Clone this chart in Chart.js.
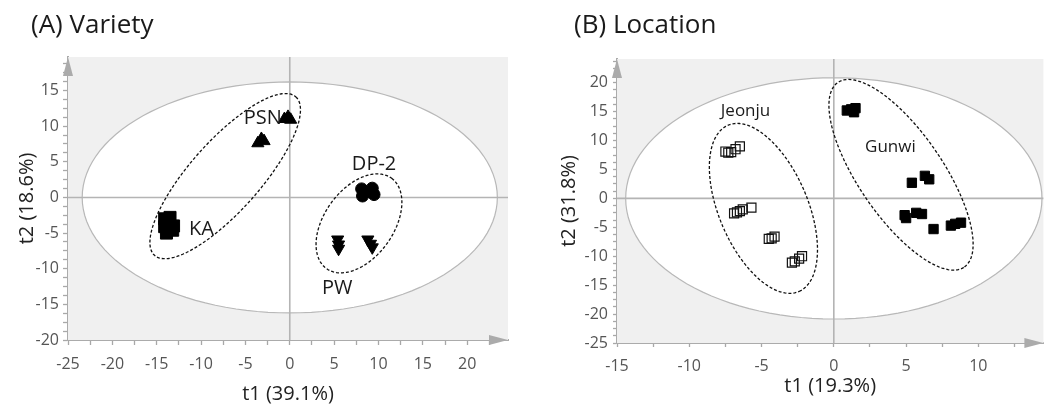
<!DOCTYPE html>
<html>
<head>
<meta charset="utf-8">
<script src="https://cdn.jsdelivr.net/npm/chart.js@4.4.1/dist/chart.umd.min.js"></script>
<style>
  body { margin: 0; background: #fff; width: 1051px; height: 412px; overflow: hidden; position: relative; font-family: "Open Sans", sans-serif; }
  .panel { position: absolute; top: 0; height: 412px; }
  .panel canvas { display: block; }
  .ptitle { position: absolute; top: 8px; font-size: 26px; line-height: 1.2; color: #1a1a1a; }
</style>
</head>
<body>
<div class="panel" style="left:0;width:525px">
  <canvas id="varietyChart" width="525" height="412" style="width:525px;height:412px"></canvas>
  <div class="ptitle" style="left:31px">(A) Variety</div>
</div>
<div class="panel" style="left:525px;width:526px">
  <canvas id="locationChart" width="526" height="412" style="width:526px;height:412px"></canvas>
  <div class="ptitle" style="left:49px">(B) Location</div>
</div>
<script>
const FONT = '"Open Sans", "Noto Sans", sans-serif';

// (A) Variety - PCA scores (t1, t2)
const psnT1 = [-0.6, -0.2, 0.1, -3.6, -3.2, -2.9];
const psnT2 = [11.0, 11.3, 10.9, 7.6, 8.2, 7.9];
const kaT1 = [-14.1, -13.5, -13.1, -14.1, -13.9, -13.2];
const kaT2 = [-3.0, -2.8, -4.0, -4.1, -5.0, -4.6];
const dpT1 = [8.1, 8.2, 8.4, 9.3, 9.5, 9.2];
const dpT2 = [1.2, 0.2, 0.7, 1.3, 0.4, 0.8];
const pwT1 = [5.4, 5.5, 5.5, 8.8, 9.1, 9.3];
const pwT2 = [-5.9, -6.6, -7.2, -5.9, -6.5, -7.0];

// (B) Location - PCA scores (t1, t2)
const jeonjuT1 = [-7.5, -7.3, -7.1, -6.8, -6.5, -6.9, -6.7, -6.5, -6.3, -5.7, -4.5, -4.3, -4.1, -2.9, -2.7, -2.4, -2.2];
const jeonjuT2 = [8.1, 7.9, 8.0, 8.5, 9.0, -2.6, -2.4, -2.2, -1.9, -1.6, -7.0, -6.9, -6.6, -11.1, -10.9, -10.4, -10.0];
const gunwiT1 = [0.9, 1.2, 1.5, 1.4, 5.4, 6.3, 6.6, 4.9, 5.0, 5.7, 6.1, 6.9, 8.1, 8.4, 8.8];
const gunwiT2 = [15.2, 15.4, 15.6, 14.9, 2.7, 3.9, 3.3, -2.9, -3.4, -2.5, -2.7, -5.3, -4.7, -4.4, -4.2];

// tick labels
const varietyXTicks = [-25, -20, -15, -10, -5, 0, 5, 10, 15, 20];
const varietyYTicks = [-20, -15, -10, -5, 0, 5, 10, 15];
const locationXTicks = [-15, -10, -5, 0, 5, 10];
const locationYTicks = [-25, -20, -15, -10, -5, 0, 5, 10, 15, 20];

// group names placed at (t1, t2)
const varietyNames = [['PSN', -5.2, 11.1], ['KA', -11.35, -4.5], ['DP-2', 7.0, 4.7], ['PW', 3.64, -12.7]];
const locationNames = [['Jeonju', -7.82, 15.0], ['Gunwi', 2.16, 8.9]];

// Hotelling T2 ellipse semi-axes (t1, t2 units)
const varietyT2 = [23.4, 16.2];
const locationT2 = [14.4, 20.85];

// dashed group rings: centre, major semi-axis vector, minor semi-axis vector
const varietyRings = [[-7.28, 2.99, 7.97, 11.11, 2.92, -3.30], [7.80, -3.64, 3.69, 6.32, 3.13, -2.88]];
const locationRings = [[-4.87, -1.73, 2.47, -14.36, 2.81, 3.12], [4.65, 4.08, 4.39, -15.93, 2.37, 4.24]];

const pts = (xs, ys) => xs.map((x, i) => ({ x: x, y: ys[i] }));

function ringPath(ctx, sx, sy, r) {
  const [cx, cy, ux, uy, vx, vy] = r;
  ctx.beginPath();
  for (let k = 0; k <= 120; k++) {
    const t = k / 120 * Math.PI * 2;
    const px = sx.getPixelForValue(cx + ux * Math.cos(t) + vx * Math.sin(t));
    const py = sy.getPixelForValue(cy + uy * Math.cos(t) + vy * Math.sin(t));
    if (k === 0) ctx.moveTo(px, py); else ctx.lineTo(px, py);
  }
  ctx.closePath();
}

const pcaDecor = {
  id: 'pcaDecor',
  beforeDatasetsDraw(chart, args, opts) {
    const { ctx, chartArea: a, scales: { x, y } } = chart;
    ctx.save();
    ctx.fillStyle = '#f0f0f0';
    ctx.fillRect(a.left, a.top, a.width, a.height);
    ringPath(ctx, x, y, [0, 0, opts.t2[0], 0, 0, opts.t2[1]]);
    ctx.fillStyle = '#fff';
    ctx.fill();
    ctx.strokeStyle = '#b8b8b8';
    ctx.lineWidth = 1.2;
    ctx.stroke();
    // zero lines
    ctx.strokeStyle = '#b4b4b4';
    ctx.lineWidth = 1.6;
    ctx.beginPath();
    ctx.moveTo(x.getPixelForValue(0), a.top);
    ctx.lineTo(x.getPixelForValue(0), a.bottom);
    ctx.moveTo(a.left, y.getPixelForValue(0));
    ctx.lineTo(a.right, y.getPixelForValue(0));
    ctx.stroke();
    // group rings
    ctx.strokeStyle = '#111';
    ctx.lineWidth = 1.3;
    ctx.setLineDash([3, 2]);
    opts.rings.forEach(r => { ringPath(ctx, x, y, r); ctx.stroke(); });
    ctx.restore();
  },
  afterDatasetsDraw(chart, args, opts) {
    const { ctx, scales: { x, y } } = chart;
    ctx.save();
    ctx.fillStyle = '#1a1a1a';
    ctx.font = opts.nameSize + 'px ' + FONT;
    ctx.textAlign = 'left';
    ctx.textBaseline = 'middle';
    opts.names.forEach(n => ctx.fillText(n[0], x.getPixelForValue(n[1]), y.getPixelForValue(n[2])));
    ctx.restore();
  },
  afterDraw(chart) {
    const { ctx, chartArea: a } = chart;
    ctx.save();
    ctx.fillStyle = '#ababab';
    ctx.beginPath();
    ctx.moveTo(a.left, a.top);
    ctx.lineTo(a.left - 5, a.top + 19);
    ctx.lineTo(a.left + 5, a.top + 19);
    ctx.fill();
    ctx.beginPath();
    ctx.moveTo(a.right, a.bottom);
    ctx.lineTo(a.right - 19, a.bottom - 5);
    ctx.lineTo(a.right - 19, a.bottom + 5);
    ctx.fill();
    ctx.restore();
  }
};

function axis(p) {
  const steps = [];
  for (let v = p.min; v <= p.max + 1e-9; v += p.step) steps.push(Math.round(v * 100) / 100);
  return {
    type: 'linear',
    min: p.min,
    max: p.max,
    afterBuildTicks: s => { s.ticks = steps.map(v => ({ value: v })); },
    afterFit: s => { if (p.width) s.width = p.width; if (p.height) s.height = p.height; },
    ticks: {
      autoSkip: false,
      maxRotation: 0,
      padding: p.pad,
      color: '#555',
      font: { family: FONT, size: 16 },
      callback: v => (p.labels.includes(v) ? String(v) : '')
    },
    grid: { drawOnChartArea: false, drawTicks: true, tickLength: p.tick, tickColor: '#a8a8a8', tickWidth: 1.3 },
    border: { display: true, color: '#ababab', width: 2 },
    title: { display: true, text: p.title, color: '#222', font: { family: FONT, size: 20 }, padding: p.titlePad }
  };
}

function pcaChart(id, datasets, o) {
  return new Chart(document.getElementById(id), {
    type: 'scatter',
    data: { datasets: datasets },
    options: {
      responsive: false,
      animation: false,
      layout: { padding: o.padding },
      plugins: {
        legend: { display: false },
        tooltip: { enabled: false },
        pcaDecor: { t2: o.t2, rings: o.rings, names: o.names, nameSize: o.nameSize }
      },
      scales: { x: axis(o.x), y: axis(o.y) }
    },
    plugins: [pcaDecor]
  });
}

const solid = { backgroundColor: '#000', borderColor: '#000', borderWidth: 1 };

pcaChart('varietyChart', [
  Object.assign({ label: 'PSN', data: pts(psnT1, psnT2), pointStyle: 'triangle', pointRadius: 7 }, solid),
  Object.assign({ label: 'KA', data: pts(kaT1, kaT2), pointStyle: 'rect', pointRadius: 8.5 }, solid),
  Object.assign({ label: 'DP-2', data: pts(dpT1, dpT2), pointStyle: 'circle', pointRadius: 6 }, solid),
  Object.assign({ label: 'PW', data: pts(pwT1, pwT2), pointStyle: 'triangle', rotation: 180, pointRadius: 7 }, solid)
], {
  padding: { top: 57, right: 17, left: 0, bottom: 0 },
  t2: varietyT2, rings: varietyRings, names: varietyNames, nameSize: 20,
  x: { min: -25, max: 24.6, step: 2.5, labels: varietyXTicks, height: 72, tick: 5, pad: 10, title: 't1 (39.1%)', titlePad: { top: 0, bottom: 6 } },
  y: { min: -20, max: 19.7, step: 1.25, labels: varietyYTicks, width: 68, tick: 5, pad: 4, title: 't2 (18.6%)', titlePad: { top: 15, bottom: 0 } }
});

pcaChart('locationChart', [
  { label: 'Jeonju', data: pts(jeonjuT1, jeonjuT2), pointStyle: 'rect', pointRadius: 6.4, backgroundColor: 'rgba(0,0,0,0)', borderColor: '#111', borderWidth: 1.2 },
  Object.assign({ label: 'Gunwi', data: pts(gunwiT1, gunwiT2), pointStyle: 'rect', pointRadius: 6.6 }, solid)
], {
  padding: { top: 59, right: 0, left: 0, bottom: 0 },
  t2: locationT2, rings: locationRings, names: locationNames, nameSize: 17,
  x: { min: -15, max: 14.5, step: 2.5, labels: locationXTicks, height: 69, tick: 4, pad: 10, title: 't1 (19.3%)', titlePad: { top: 0, bottom: 14 } },
  y: { min: -25, max: 24.1, step: 1.25, labels: locationYTicks, width: 92, tick: 4, pad: 5, title: 't2 (31.8%)', titlePad: { top: 32, bottom: 0 } }
});
</script>
</body>
</html>
